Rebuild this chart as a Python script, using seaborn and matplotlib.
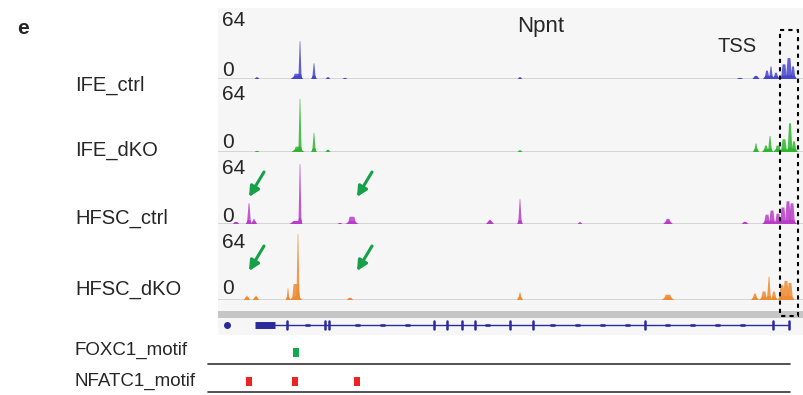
import matplotlib
matplotlib.use("Agg")
import matplotlib.pyplot as plt
import seaborn as sns
import numpy as np
import pandas as pd
from matplotlib.patches import Rectangle, FancyArrowPatch

sns.set_theme(style="white")
plt.rcParams['font.family'] = ['Liberation Sans', 'DejaVu Sans']

# ---------------- data ----------------
track_names = ["IFE_ctrl", "IFE_dKO", "HFSC_ctrl", "HFSC_dKO"]
track_colors = ["#4646cc", "#2fb52f", "#b83cc6", "#ee8a30"]
scale_max = 64

# peak positions (kb from window start), heights, half-widths
ife_ctrl_pos = [39, 79, 82, 96, 110, 127, 302, 522, 538, 549, 553, 558, 566, 571, 575]
ife_ctrl_h   = [1.5, 5, 36, 15, 1.5, 1, 1.5, 1, 3, 8, 12, 6, 14, 20, 12]
ife_ctrl_w   = [1.5, 4, 1.6, 1.8, 1.5, 1.5, 1.5, 2, 2.2, 2.5, 2, 2.5, 3, 3, 2.5]

ife_dko_pos = [39, 80, 82, 96, 110, 302, 538, 548, 552, 560, 566, 572, 576]
ife_dko_h   = [1, 5, 50, 18, 2, 1.5, 8, 6, 15, 6, 12, 27, 10]
ife_dko_w   = [1.5, 4, 1.6, 1.8, 1.5, 1.5, 2, 2.5, 2, 3, 3, 2.5, 2.5]

hfsc_ctrl_pos = [18, 31, 36, 78, 82, 122, 134, 272, 302, 362, 450, 527, 549, 554, 560, 565, 570, 574]
hfsc_ctrl_h   = [2, 20, 5, 3, 58, 1, 7, 4, 24, 1.5, 5, 2, 9, 13, 10, 16, 22, 20]
hfsc_ctrl_w   = [2, 2, 2, 4, 1.5, 1.5, 4, 2.5, 1.8, 1.5, 3, 2, 3, 3, 3, 3, 3, 3]

hfsc_dko_pos = [29, 38, 70, 78, 80, 132, 302, 450, 537, 546, 551, 556, 564, 568, 572]
hfsc_dko_h   = [4, 4, 11, 15, 62, 2, 7, 5, 6, 8, 22, 8, 14, 18, 16]
hfsc_dko_w   = [2, 2, 1.5, 4, 1.6, 2, 2, 4, 2.5, 3, 2, 2.5, 3, 3, 3]

track_pos = [ife_ctrl_pos, ife_dko_pos, hfsc_ctrl_pos, hfsc_dko_pos]
track_h = [ife_ctrl_h, ife_dko_h, hfsc_ctrl_h, hfsc_dko_h]
track_w = [ife_ctrl_w, ife_dko_w, hfsc_ctrl_w, hfsc_dko_w]

window_len = 586

# gene model (kb)
gene_dot = 9
gene_utr = [37, 57]
gene_span = [57, 571]
gene_exons = [69, 107, 111, 216, 229, 244, 257, 292, 315, 427, 555, 571]
gene_chevrons = [90, 140, 165, 190, 270, 335, 360, 385, 410, 450, 475, 500, 525]

# motifs (kb)
foxc1_motifs = [78]
nfatc1_motifs = [31, 77, 139]
motif_names = ["FOXC1_motif", "NFATC1_motif"]

# arrows (track index, kb tip)
arrow_tracks = [2, 2, 3, 3]
arrow_tips = [31, 139, 31, 139]

tss_box = [562, 580]

# ---------------- layout ----------------
W, H = 804, 395
fig = plt.figure(figsize=(W / 100, H / 100), dpi=100)
X0 = 218

def frac(x0, y0, x1, y1):
    return [x0 / W, 1 - y1 / H, (x1 - x0) / W, (y1 - y0) / H]

bg = fig.add_axes([0, 0, 1, 1], zorder=0)
bg.set_xlim(0, W); bg.set_ylim(H, 0); bg.axis("off")
bg.add_patch(Rectangle((X0, 8), W - X0, 327, color="#f6f6f6", lw=0))
bg.add_patch(Rectangle((X0, 311), W - X0, 7, color="#c6c6c6", lw=0))

track_px = [(12, 79), (84, 152), (158, 224), (232, 300)]
track_axes = []
for i, (yt, yb) in enumerate(track_px):
    ax = fig.add_axes(frac(X0, yt, W, yb), zorder=1)
    ax.patch.set_alpha(0)
    ax.set_xlim(0, window_len)
    ax.set_ylim(0, scale_max)
    ax.axis("off")
    df = pd.DataFrame({"pos": track_pos[i], "h": track_h[i], "w": track_w[i]})
    sns.lineplot(x=[0, window_len], y=[0, 0], ax=ax, color="#d2d2d2", lw=2, zorder=0)
    for p, h, w in zip(df.pos, df.h, df.w):
        top = max(0.3, w - 1.6)
        ax.fill([p - w, p - top, p + top, p + w], [0, h, h, 0],
                color=track_colors[i], alpha=0.85, lw=0)
        bh = min(h, 2.5 + 0.06 * h)
        ax.fill([p - w * 1.6, p - w * 0.6, p + w * 0.6, p + w * 1.6], [0, bh, bh, 0],
                color=track_colors[i], lw=0)
    track_axes.append(ax)

ov = fig.add_axes([0, 0, 1, 1], zorder=3)
ov.patch.set_alpha(0)
ov.set_xlim(0, W); ov.set_ylim(H, 0); ov.axis("off")

def kx(k):
    return X0 + k

# gene model
gc = "#2a2a9c"
gy = 325
ov.plot([kx(gene_span[0]), kx(gene_span[1])], [gy, gy], color=gc, lw=1)
ov.plot([kx(gene_utr[0]), kx(gene_utr[1])], [gy, gy], color=gc, lw=5, solid_capstyle="butt")
ov.plot([kx(gene_dot)], [gy], "o", color=gc, ms=4)
for e in gene_exons:
    ov.plot([kx(e), kx(e)], [gy - 4, gy + 4], color=gc, lw=1.8)
for c in gene_chevrons:
    ov.plot([kx(c) - 1.5, kx(c) + 1.5], [gy, gy], color=gc, lw=2.2, alpha=0.8)

# text
ov.text(17, 28, "e", fontsize=15, fontweight="bold", va="center", ha="left")
ov.text(541, 32, "Npnt", fontsize=16, ha="center", va="baseline")
ov.text(718, 52, "TSS", fontsize=14.5, ha="left", va="baseline")
label_y = [85, 150, 218, 289]
for name, y in zip(track_names, label_y):
    ov.text(75, y, name, fontsize=14.5, ha="left", va="center")
num_y = [(21, 70), (95, 143), (169, 216), (242, 289)]
for y64, y0 in num_y:
    ov.text(222, y64, str(scale_max), fontsize=15, ha="left", va="center")
    ov.text(222, y0, "0", fontsize=15, ha="left", va="center")

# motifs
ov.text(75, 350, motif_names[0], fontsize=13.5, ha="left", va="center")
ov.text(75, 381, motif_names[1], fontsize=13.5, ha="left", va="center")
ov.plot([208, 790], [364, 364], color="#333333", lw=1.2)
ov.plot([208, 790], [392, 392], color="#333333", lw=1.2)
for m in foxc1_motifs:
    ov.add_patch(Rectangle((kx(m) - 3, 348), 6, 9, color="#16a84e", lw=0))
for m in nfatc1_motifs:
    ov.add_patch(Rectangle((kx(m) - 3, 377), 6, 9, color="#ee2424", lw=0))

# arrows
for t, k in zip(arrow_tracks, arrow_tips):
    yt, yb = track_px[t]
    hx, hy = kx(k), yt + 39
    ov.add_patch(FancyArrowPatch((hx + 15, hy - 25), (hx, hy), arrowstyle="-|>",
                                 mutation_scale=15, color="#17a04a", lw=2.2,
                                 shrinkA=0, shrinkB=0))

# TSS dashed box
ov.add_patch(Rectangle((kx(tss_box[0]), 30), tss_box[1] - tss_box[0], 286,
                       fill=False, ec="black", lw=1.5, ls=(0, (2, 2))))

fig.savefig("out.png", dpi=100)
